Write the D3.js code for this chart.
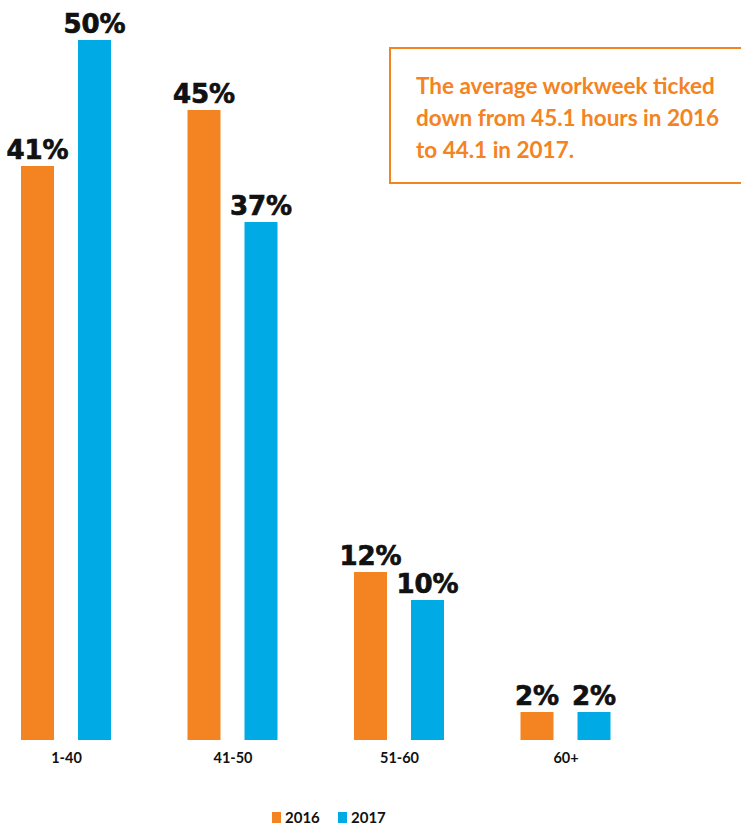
<!DOCTYPE html>
<html>
<head>
<meta charset="utf-8">
<script src="https://cdn.jsdelivr.net/npm/d3@7"></script>
<style>
  html, body { margin: 0; padding: 0; background: #fff; }
  svg { display: block; }
</style>
</head>
<body>
<svg id="chart" width="741" height="827"></svg>
<script>
// Weekly hours worked, share of respondents by bracket
const categories = ["1-40", "41-50", "51-60", "60+"];
const seriesNames = ["2016", "2017"];
const values2016 = [41, 45, 12, 2];
const values2017 = [50, 37, 10, 2];
const noteLines = [
  "The average workweek ticked",
  "down from 45.1 hours in 2016",
  "to 44.1 in 2017."
];

const colors = { "2016": "#F48321", "2017": "#00AAE5" };
const seriesValues = { "2016": values2016, "2017": values2017 };

const svg = d3.select("#chart");

const x0 = d3.scalePoint().domain(categories).range([66, 565.5]);
const x1 = d3.scaleBand().domain(seriesNames).range([-45, 45]).paddingInner(0.421).paddingOuter(0);
const y = d3.scaleLinear().domain([0, 50]).range([740, 40]);

const rows = categories.map((c, i) => ({
  category: c,
  items: seriesNames.map(s => ({ series: s, value: seriesValues[s][i] }))
}));

const groups = svg.append("g").selectAll("g")
  .data(rows).join("g")
  .attr("transform", d => `translate(${x0(d.category)},0)`);

groups.selectAll("rect")
  .data(d => d.items).join("rect")
  .attr("x", d => x1(d.series))
  .attr("width", x1.bandwidth())
  .attr("y", d => y(d.value))
  .attr("height", d => y(0) - y(d.value))
  .attr("fill", d => colors[d.series]);

// Value labels: heavy black figures above each bar
groups.selectAll("text.value")
  .data(d => d.items).join("text")
  .attr("class", "value")
  .attr("x", d => x1(d.series) + x1.bandwidth() / 2)
  .attr("y", d => y(d.value) - 7)
  .attr("text-anchor", "middle")
  .style("font-family", "'DejaVu Sans', sans-serif")
  .style("font-weight", 700)
  .style("font-size", "26px")
  .style("fill", "#111")
  .style("stroke", "#111")
  .style("stroke-width", 0.7)
  .text(d => d.value + "%");

// Category axis (labels only, no line or ticks)
const xAxis = svg.append("g")
  .attr("transform", `translate(0,${y(0)})`)
  .call(d3.axisBottom(x0).tickSize(0).tickPadding(13));
xAxis.select(".domain").remove();
xAxis.selectAll("text")
  .style("font-family", "Lato, 'Open Sans', sans-serif")
  .style("font-weight", 700)
  .style("font-size", "14.5px")
  .style("fill", "#111");

// Legend
const legend = svg.append("g").attr("transform", "translate(272,812)");
const legendItems = legend.selectAll("g")
  .data(seriesNames).join("g")
  .attr("transform", (d, i) => `translate(${i * 66},0)`);
legendItems.append("rect")
  .attr("width", 9).attr("height", 11)
  .attr("fill", d => colors[d]);
legendItems.append("text")
  .attr("x", 13).attr("y", 11)
  .style("font-family", "Lato, 'Open Sans', sans-serif")
  .style("font-weight", 700)
  .style("font-size", "15px")
  .style("fill", "#111")
  .text(d => d);

// Annotation box
const note = svg.append("g");
note.append("rect")
  .attr("x", 390).attr("y", 48)
  .attr("width", 400).attr("height", 135)
  .attr("fill", "none")
  .attr("stroke", "#F48321")
  .attr("stroke-width", 2);
note.selectAll("text")
  .data(noteLines).join("text")
  .attr("x", 416)
  .attr("y", (d, i) => 94 + i * 32)
  .style("font-family", "Lato, 'Open Sans', sans-serif")
  .style("font-weight", 700)
  .style("font-size", "22.5px")
  .style("fill", "#F48321")
  .text(d => d);
</script>
</body>
</html>
